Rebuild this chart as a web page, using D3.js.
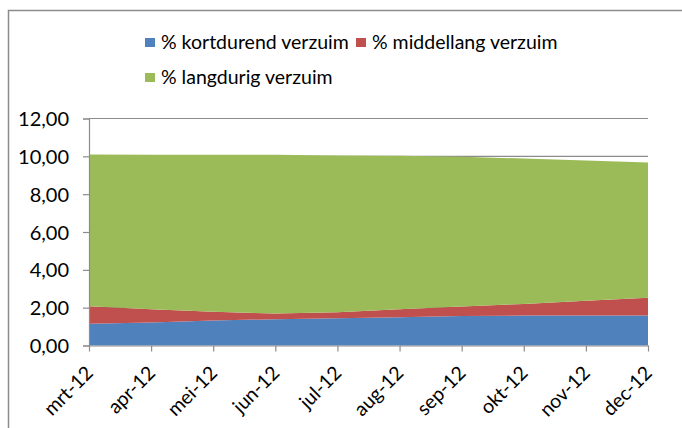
<!DOCTYPE html>
<html>
<head>
<meta charset="utf-8">
<script src="https://cdn.jsdelivr.net/npm/d3@7"></script>
<style>
  body { margin: 0; background: #fff; }
  svg text { font-family: Lato, "Open Sans", sans-serif; fill: #000; }
</style>
</head>
<body>
<svg id="chart"></svg>
<script>
const width = 682;
const height = 428;

// data
const months = ['mrt-12', 'apr-12', 'mei-12', 'jun-12', 'jul-12', 'aug-12', 'sep-12', 'okt-12', 'nov-12', 'dec-12'];
const kortdurend = [1.15, 1.21, 1.32, 1.39, 1.44, 1.50, 1.56, 1.58, 1.59, 1.59];
const middellang = [0.92, 0.71, 0.47, 0.30, 0.32, 0.42, 0.50, 0.62, 0.77, 0.93];
const langdurig = [8.03, 8.17, 8.30, 8.39, 8.29, 8.11, 7.92, 7.68, 7.42, 7.15];
const seriesNames = ['% kortdurend verzuim', '% middellang verzuim', '% langdurig verzuim'];
const colors = ['#4f81bd', '#c0504d', '#9bbb59'];
const yTicks = [0, 2, 4, 6, 8, 10, 12];

const rows = months.map((m, i) => ({ month: m, k: kortdurend[i], m: middellang[i], l: langdurig[i] }));

const svg = d3.select('#chart')
    .attr('width', width)
    .attr('height', height);

// outer chart frame
svg.append('path')
    .attr('d', `M8.5,${height + 2}V10.5H${width + 2}`)
    .attr('fill', 'none')
    .attr('stroke', '#8c8c8c')
    .attr('stroke-width', 1.5);

const x = d3.scalePoint()
    .domain(months)
    .range([89, 648]);

const y = d3.scaleLinear()
    .domain([0, 12])
    .range([345.5, 118.5]);

// gridlines
svg.append('g')
    .selectAll('line')
    .data(yTicks.slice(1))
    .enter().append('line')
    .attr('x1', 89).attr('x2', 648)
    .attr('y1', d => y(d)).attr('y2', d => y(d))
    .attr('stroke', '#8c8c8c')
    .attr('stroke-width', 1.2);

const stack = d3.stack().keys(['k', 'm', 'l']);
const stacked = stack(rows);

const area = d3.area()
    .x(d => x(d.data.month))
    .y0(d => y(d[0]))
    .y1(d => y(d[1]));

svg.append('g')
    .selectAll('path')
    .data(stacked)
    .enter().append('path')
    .attr('d', area)
    .attr('fill', (d, i) => colors[i]);

// y axis
const yAxis = svg.append('g')
    .attr('transform', 'translate(89,0)')
    .call(d3.axisLeft(y).tickValues(yTicks).tickSize(6).tickPadding(14)
        .tickFormat(d => d3.format('.2f')(d).replace('.', ',')));
yAxis.select('.domain').attr('stroke', '#8c8c8c').attr('stroke-width', 1.2);
yAxis.selectAll('.tick line').attr('stroke', '#8c8c8c').attr('stroke-width', 1.2);
yAxis.selectAll('.tick text')
    .style('font-size', '20px')
    .attr('dy', '0.35em');

// x axis
const xAxis = svg.append('g')
    .attr('transform', 'translate(0,345.5)')
    .call(d3.axisBottom(x).tickSize(6).tickSizeOuter(0));
xAxis.select('.domain').attr('stroke', '#8c8c8c').attr('stroke-width', 1.2);
xAxis.selectAll('.tick line').attr('stroke', '#8c8c8c').attr('stroke-width', 1.2);
xAxis.selectAll('.tick text')
    .style('font-size', '19.5px')
    .attr('text-anchor', 'end')
    .attr('x', 0)
    .attr('y', 24)
    .attr('dy', '0.35em')
    .attr('transform', 'rotate(-45 0 24)');

// legend
const legendItems = [
    { name: seriesNames[0], color: colors[0], x: 145, y: 42.5 },
    { name: seriesNames[1], color: colors[1], x: 356, y: 42.5 },
    { name: seriesNames[2], color: colors[2], x: 145, y: 77.5 }
];
const legend = svg.append('g')
    .selectAll('g')
    .data(legendItems)
    .enter().append('g')
    .attr('transform', d => `translate(${d.x},${d.y})`);
legend.append('rect')
    .attr('x', 0).attr('y', -4.5)
    .attr('width', 10).attr('height', 9)
    .attr('fill', d => d.color);
legend.append('text')
    .attr('x', 16)
    .attr('dy', '0.35em')
    .style('font-size', '19.5px')
    .text(d => d.name);
</script>
</body>
</html>
